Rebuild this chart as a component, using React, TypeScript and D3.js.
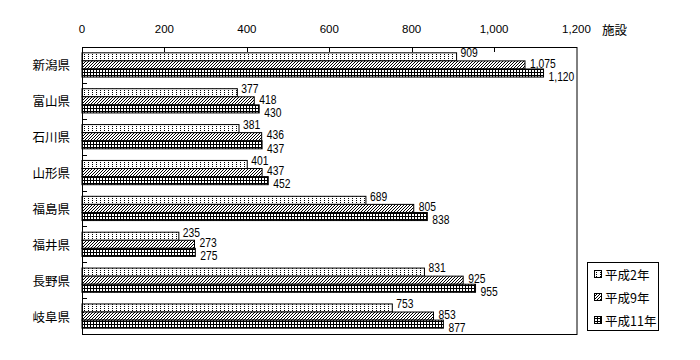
import React from "react";
import * as d3 from "d3";

const categories = ["新潟県", "富山県", "石川県", "山形県", "福島県", "福井県", "長野県", "岐阜県"];
const seriesNames = ["平成2年", "平成9年", "平成11年"];
const h2 = [909, 377, 381, 401, 689, 235, 831, 753];
const h9 = [1075, 418, 436, 437, 805, 273, 925, 853];
const h11 = [1120, 430, 437, 452, 838, 275, 955, 877];
const xTicks = [0, 200, 400, 600, 800, 1000, 1200];
const unitLabel = "施設";

const seriesValues = [h2, h9, h11];
const patternIds = ["pDots", "pHatch", "pGrid"];
const labelDy = [-4, -1.5, 3.5];
const labelDx = [4, 5, 5];

const CJK = "'Noto Sans CJK JP', 'Noto Sans', sans-serif";
const NUM = "'Liberation Sans', sans-serif";

export default function App() {
  const left = 82, right = 576.5, top = 47, bottom = 334;
  const x = d3.scaleLinear().domain([0, 1200]).range([left, right]);
  const y0 = d3.scaleBand<string>().domain(categories).range([top, bottom]);
  const y1 = d3
    .scaleBand<string>()
    .domain(seriesNames)
    .range([0, y0.bandwidth()])
    .paddingOuter(0.72);
  const fmt = d3.format(",");

  return (
    <svg
      width={700}
      height={360}
      style={{ position: "absolute", left: 0, top: 0, background: "#fff" }}
    >
      <defs>
        <pattern id="pDots" patternUnits="userSpaceOnUse" width={4} height={2}>
          <rect width={4} height={2} fill="#fff" />
          <rect x={0} y={0} width={1} height={1} fill="#000" />
        </pattern>
        <pattern id="pHatch" patternUnits="userSpaceOnUse" width={3} height={3}>
          <rect width={3} height={3} fill="#fff" />
          <path d="M0,3 L3,0 M-1,1 L1,-1 M2,4 L4,2" stroke="#000" strokeWidth={1} />
        </pattern>
        <pattern id="pGrid" patternUnits="userSpaceOnUse" width={3} height={3}>
          <rect width={3} height={3} fill="#fff" />
          <rect x={0} y={0} width={3} height={1} fill="#000" />
          <rect x={0} y={0} width={1} height={3} fill="#000" />
        </pattern>
      </defs>

      {/* bars */}
      {seriesValues.map((vals, si) =>
        vals.map((v, ci) => {
          const yy = (y0(categories[ci]) as number) + (y1(seriesNames[si]) as number);
          const bh = y1.bandwidth();
          return (
            <g key={`b${si}-${ci}`}>
              <rect
                x={x(0)}
                y={yy}
                width={x(v) - x(0)}
                height={bh}
                fill={`url(#${patternIds[si]})`}
                stroke="#000"
                strokeWidth={1}
              />
              <text
                transform={`translate(${x(v) + labelDx[si]},${yy + bh / 2 + labelDy[si]}) scale(0.86,1)`}
                dominantBaseline="central"
                fontFamily={NUM}
                fontSize={12}
                fill="#000"
              >
                {fmt(v)}
              </text>
            </g>
          );
        })
      )}

      {/* frame */}
      <rect
        x={left + 0.5}
        y={top + 0.5}
        width={right - left}
        height={bottom - top}
        fill="none"
        stroke="#000"
        strokeWidth={1}
      />

      {/* top ticks */}
      {xTicks.slice(1, -1).map((t) => (
        <line
          key={`xt${t}`}
          x1={Math.round(x(t)) + 0.5}
          x2={Math.round(x(t)) + 0.5}
          y1={top}
          y2={top + 5}
          stroke="#000"
        />
      ))}
      {xTicks.map((t) => (
        <text
          key={`xl${t}`}
          x={x(t)}
          y={29}
          textAnchor="middle"
          dominantBaseline="central"
          fontFamily="'Liberation Sans', sans-serif"
          fontSize={11.5}
          fill="#000"
        >
          {fmt(t)}
        </text>
      ))}
      <text
        x={602}
        y={29}
        dominantBaseline="central"
        fontFamily={CJK}
        fontSize={12.5}
        fill="#000"
      >
        {unitLabel}
      </text>

      {/* left ticks & category labels */}
      {categories.slice(1).map((c) => (
        <line
          key={`yt${c}`}
          x1={left}
          x2={left + 5}
          y1={Math.round(y0(c) as number) + 0.5}
          y2={Math.round(y0(c) as number) + 0.5}
          stroke="#000"
        />
      ))}
      {categories.map((c) => (
        <text
          key={`yl${c}`}
          x={70}
          y={(y0(c) as number) + y0.bandwidth() / 2}
          textAnchor="end"
          dominantBaseline="central"
          fontFamily={CJK}
          fontSize={12.5}
          fill="#000"
        >
          {c}
        </text>
      ))}

      {/* legend */}
      <rect x={587.5} y={262.5} width={71} height={68} fill="#fff" stroke="#000" />
      {seriesNames.map((s, i) => {
        const cy = 274 + i * 23;
        return (
          <g key={`lg${s}`}>
            <rect
              x={594.5}
              y={cy - 3.5}
              width={7}
              height={7}
              fill={`url(#${patternIds[i]})`}
              stroke="#000"
            />
            <text
              x={605}
              y={cy}
              dominantBaseline="central"
              fontFamily={CJK}
              fontSize={12.5}
              fill="#000"
            >
              {s}
            </text>
          </g>
        );
      })}
    </svg>
  );
}
